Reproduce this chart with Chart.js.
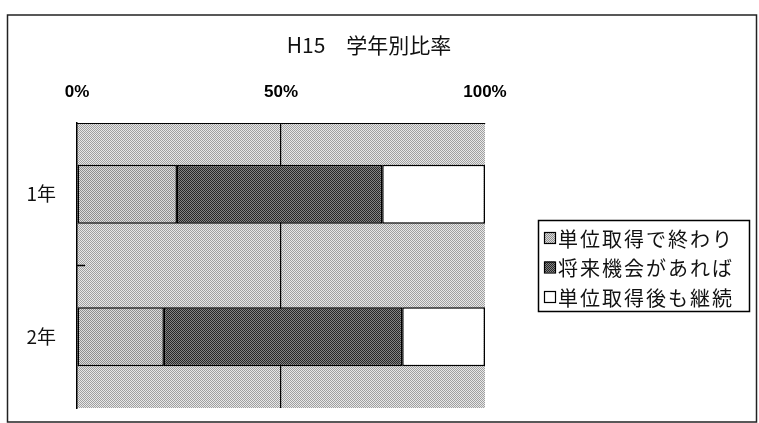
<!DOCTYPE html>
<html>
<head>
<meta charset="utf-8">
<script src="https://cdn.jsdelivr.net/npm/chart.js@4/dist/chart.umd.min.js"></script>
<style>
  html, body { margin: 0; padding: 0; background: #fff; }
  #wrap { width: 759px; height: 423px; }
</style>
</head>
<body>
<div id="wrap"><canvas id="graficoRatio" width="759" height="423"></canvas></div>
<script>
const titulo = "H15\u3000学年別比率";
const categorias = ["1年", "2年"];
const nomesSeries = ["単位取得で終わり", "将来機会があれば", "単位取得後も継続"];
const terminaAqui = [24.5, 21.3];
const seHouverChance = [50.3, 58.4];
const continua = [25.2, 20.3];
const ticksX = [0, 50, 100];

const FONTE_JP = '"Noto Sans CJK JP", "Noto Sans", sans-serif';

// pontilhado 2x2 parecido com a retícula de impressão
function padrao(escuro, claro) {
  const c = document.createElement("canvas");
  c.width = 2;
  c.height = 2;
  const g = c.getContext("2d");
  g.fillStyle = claro;
  g.fillRect(0, 0, 2, 2);
  g.fillStyle = escuro;
  g.fillRect(0, 0, 1, 1);
  g.fillRect(1, 1, 1, 1);
  return g.createPattern(c, "repeat");
}

const fundoPlot = padrao("#a0a0a0", "#e8e8e8");
const corSeries = [padrao("#8e8e8e", "#dcdcdc"), padrao("#262626", "#848484"), "#ffffff"];

const moldura = {
  id: "moldura",
  beforeDraw(chart) {
    const { ctx, chartArea: a } = chart;
    ctx.save();
    ctx.fillStyle = fundoPlot;
    ctx.fillRect(a.left, a.top, a.right - a.left, a.bottom - a.top);
    ctx.restore();
  },
  afterDraw(chart) {
    const { ctx, chartArea: a } = chart;
    ctx.save();

    // borda externa
    ctx.strokeStyle = "#222";
    ctx.lineWidth = 1.5;
    ctx.strokeRect(7.5, 15, 749, 407);

    // título
    ctx.fillStyle = "#111";
    ctx.font = "21px " + FONTE_JP;
    ctx.textAlign = "center";
    ctx.textBaseline = "middle";
    ctx.fillText(titulo, 369, 45);

    // tracinhos entre as categorias
    const y = chart.scales.y;
    ctx.strokeStyle = "#000";
    ctx.lineWidth = 1.5;
    for (let i = 0; i < categorias.length - 1; i++) {
      const meio = (y.getPixelForValue(i) + y.getPixelForValue(i + 1)) / 2;
      ctx.beginPath();
      ctx.moveTo(a.left, meio);
      ctx.lineTo(a.left + 8, meio);
      ctx.stroke();
    }

    // legenda
    ctx.lineWidth = 1.5;
    ctx.strokeRect(538.5, 220.5, 211, 91);
    ctx.font = "20px " + FONTE_JP;
    ctx.textAlign = "left";
    ctx.letterSpacing = "2px";
    chart.data.datasets.forEach((ds, i) => {
      const yy = 238 + i * 29.5;
      ctx.fillStyle = ds.backgroundColor;
      ctx.fillRect(544, yy - 6, 11, 11);
      ctx.lineWidth = 1.2;
      ctx.strokeRect(544.5, yy - 5.5, 11, 11);
      ctx.fillStyle = "#111";
      ctx.fillText(ds.label, 558, yy + 1);
    });
    ctx.restore();
  },
};

function criarGrafico() {
  const ctx = document.getElementById("graficoRatio");
  const valores = [terminaAqui, seHouverChance, continua];

  new Chart(ctx, {
    type: "bar",
    data: {
      labels: categorias,
      datasets: nomesSeries.map((nome, i) => ({
        label: nome,
        data: valores[i],
        backgroundColor: corSeries[i],
        borderColor: "#000",
        borderWidth: 1.5,
        borderSkipped: false,
        categoryPercentage: 1,
        barPercentage: 0.414,
      })),
    },
    options: {
      indexAxis: "y",
      responsive: false,
      animation: false,
      layout: {
        padding: { left: 27, right: 274, top: 57, bottom: 15 },
      },
      plugins: {
        legend: { display: false },
        title: { display: false },
        tooltip: { enabled: false },
      },
      scales: {
        x: {
          position: "top",
          stacked: true,
          min: 0,
          max: 100,
          afterBuildTicks(scale) {
            scale.ticks = ticksX.map((v) => ({ value: v }));
          },
          afterFit(scale) {
            scale.height = 66;
          },
          ticks: {
            padding: 20,
            color: "#000",
            font: { family: '"Liberation Sans Narrow", "Liberation Sans"', size: 17, weight: "bold" },
            callback: (v) => v + "%",
          },
          grid: {
            drawTicks: false,
            color: (c) => (c.tick && c.tick.value === 50 ? "#000" : "rgba(0,0,0,0)"),
            lineWidth: 1.2,
          },
          border: { display: true, color: "#000", width: 1 },
        },
        y: {
          stacked: true,
          afterFit(scale) {
            scale.width = 50;
            scale.paddingTop = 0;
            scale.paddingBottom = 0;
          },
          ticks: {
            padding: 13,
            color: "#111",
            font: { family: FONTE_JP, size: 19 },
          },
          grid: { display: false },
          border: { display: true, color: "#000", width: 1.5 },
        },
      },
    },
    plugins: [moldura],
  });
}

document.addEventListener("DOMContentLoaded", criarGrafico);
</script>
</body>
</html>
